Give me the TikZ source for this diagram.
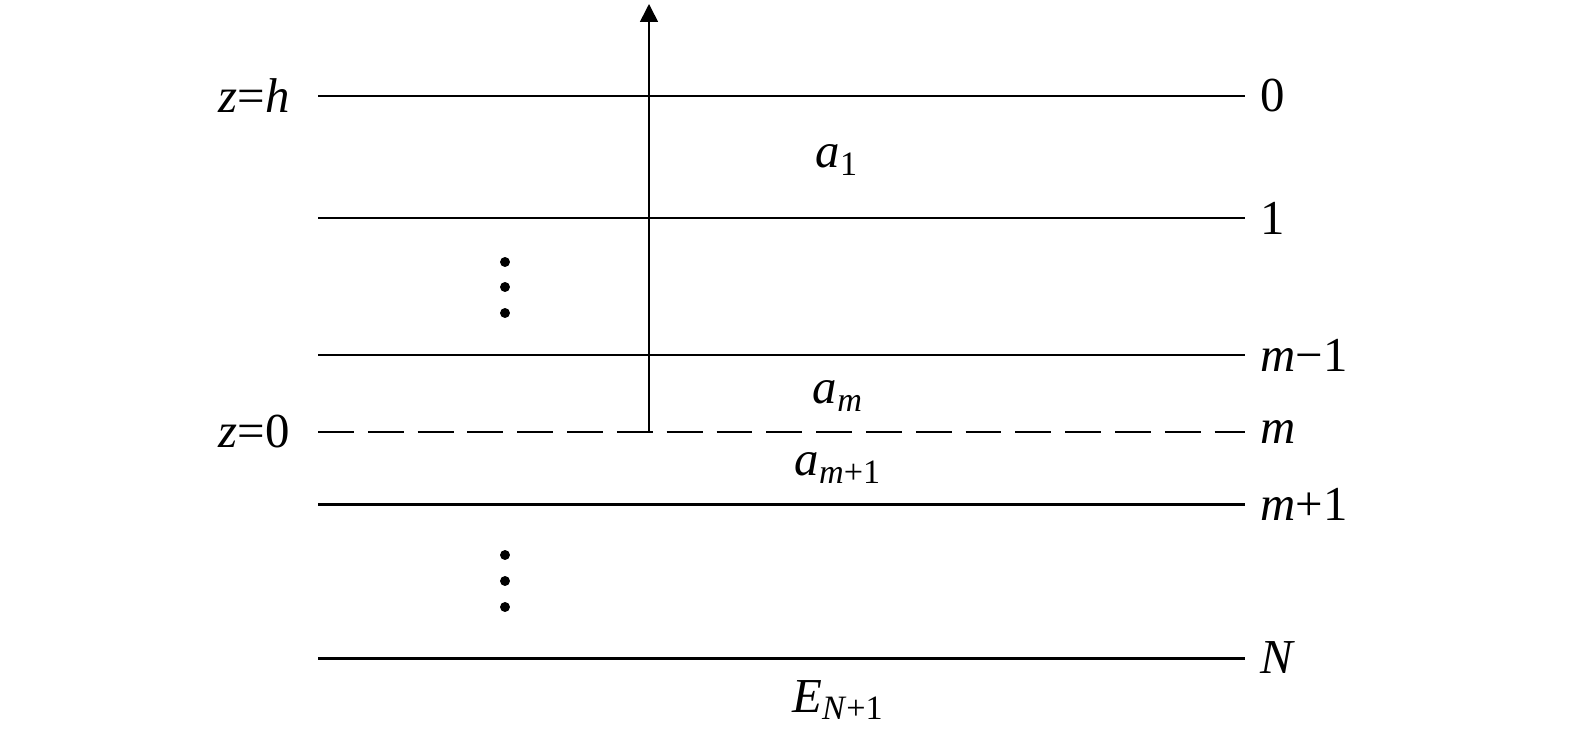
\documentclass[tikz,border=0pt]{standalone}
\usepackage{fontspec}
\setmainfont{Liberation Serif}
\usetikzlibrary{arrows.meta,positioning}

\begin{document}
\begin{tikzpicture}[
    x=0.5bp, y=-0.5bp,
    layer/.style={line width=1.5pt},
    interface/.style={line width=1.5pt, dash pattern=on 18pt off 7pt},
    axis/.style={-{Triangle[length=9pt,width=9pt]}, line width=0.8pt},
    lab/.style={font=\fontsize{24.5}{28}\selectfont, inner sep=0pt},
    vdot/.style={circle, fill, inner sep=0pt, minimum size=5pt}
]
\useasboundingbox (0,0) rectangle (1575,744);

% Solid interfaces
\foreach \name/\y/\txt in {top/96/0, one/218/1, mmo/355/\textit{m}−1, mpo/504/\textit{m}+1, bot/658/\textit{N}} {
    \coordinate (\name_l) at (318,\y);
    \coordinate (\name_r) at (1245,\y);
    \draw[layer] (\name_l) -- (\name_r);
    \node[lab, anchor=west] (\name_lab) at (1260,\y) {\txt};
}

% Source plane
\coordinate (src_l) at (318,432);
\coordinate (src_r) at (1245,432);
\draw[interface] (src_l) -- (src_r);
\node[lab, anchor=west] (src_lab) at (1260,432) {\textit{m}};

% Depth labels
\node[lab, anchor=east] (zh) at (290,96) {\textit{z}=\textit{h}};
\node[lab, anchor=east] (z0) at (290,432) {\textit{z}=0};

% Axis
\coordinate (axis_base) at (649,432);
\coordinate (axis_tip) at (649,4);
\draw[axis] (axis_base) -- (axis_tip);

% Layer names
\node[lab] (a1) at (837,160) {\textit{a}\textsubscript{1}};
\node[lab] (am) at (838,396) {\textit{a}\textsubscript{\textit{m}}};
\node[lab] (amp) at (838,468) {\textit{a}\textsubscript{\textit{m}+1}};
\node[lab] (en) at (838,700) {\textit{E}\textsubscript{\textit{N}+1}};

% Ellipses
\foreach \y [count=\i] in {262,287,313,555,581,607} {
    \node[vdot] (dot\i) at (505,\y) {};
}

\end{tikzpicture}
\end{document}
